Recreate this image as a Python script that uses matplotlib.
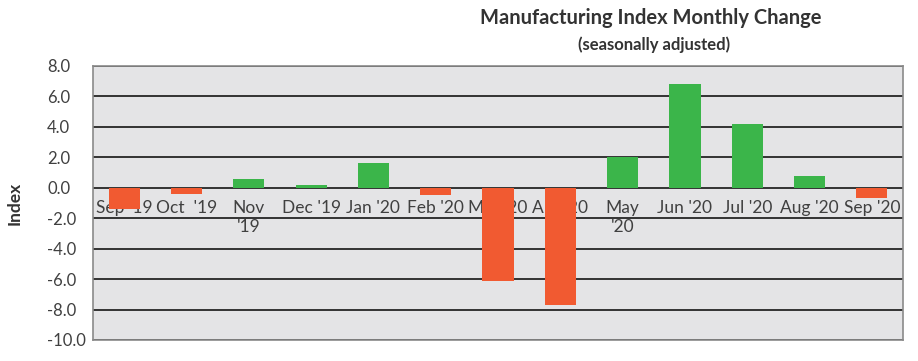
import matplotlib.pyplot as plt

months = ["Sep '19", "Oct  '19", "Nov\n'19", "Dec '19", "Jan '20", "Feb '20",
          "Mar '20", "Apr '20", "May\n'20", "Jun '20", "Jul '20", "Aug '20", "Sep '20"]
changes = [-1.4, -0.4, 0.6, 0.2, 1.6, -0.5, -6.1, -7.7, 2.0, 6.8, 4.2, 0.8, -0.7]
yticks = [8, 6, 4, 2, 0, -2, -4, -6, -8, -10]

GREEN = "#3bb54a"
RED = "#f15a31"


def main() -> None:
    plt.rcParams["font.family"] = ["Lato", "DejaVu Sans"]
    fig = plt.figure(figsize=(9.18, 3.61), dpi=100)
    ax = fig.add_axes([93 / 918, 21 / 361, 810 / 918, 274 / 361])

    ax.set_facecolor("#e4e4e6")
    for s in ax.spines.values():
        s.set_color("#8a8a8a")
        s.set_linewidth(1.2)

    for y in yticks:
        ax.axhline(y, color="#333333", lw=1.4, zorder=1)

    xs = range(len(months))
    for i, label in enumerate(months):
        ax.text(i, -0.8, label, ha="center", va="top", fontsize=12.5,
                color="#404040", linespacing=1.25, zorder=2)

    colors = [GREEN if v >= 0 else RED for v in changes]
    ax.bar(xs, changes, width=0.5, color=colors, zorder=3)

    ax.set_xlim(-0.5, len(months) - 0.5)
    ax.set_ylim(-10, 8)
    ax.set_xticks([])
    ax.set_yticks(yticks)
    ax.set_yticklabels([f"{v:.1f}" for v in yticks])
    ax.tick_params(axis="y", length=0, pad=33, labelsize=12, labelcolor="#404040")
    for lbl in ax.get_yticklabels():
        lbl.set_horizontalalignment("left")
    ax.set_ylabel("Index", fontsize=12.5, fontweight="bold", color="#333333")
    ax.yaxis.set_label_coords(-70 / 810, 0.5)

    fig.text(651 / 918, 1 - 18 / 361, "Manufacturing Index Monthly Change",
             ha="center", va="center", fontsize=14.5, fontweight="bold", color="#333333")
    fig.text(654 / 918, 1 - 45 / 361, "(seasonally adjusted)",
             ha="center", va="center", fontsize=12, fontweight="bold", color="#333333")

    fig.savefig("out.png", dpi=100)


if __name__ == "__main__":
    main()
